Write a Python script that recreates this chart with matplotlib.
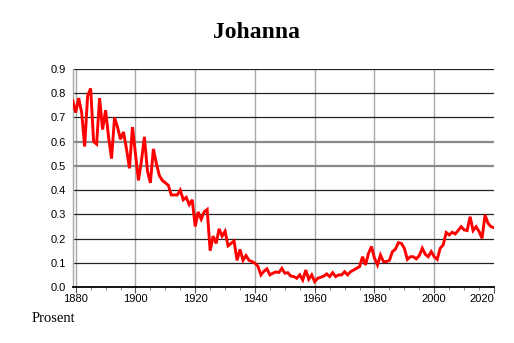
import matplotlib
matplotlib.use("Agg")
import matplotlib.pyplot as plt
from matplotlib.ticker import MultipleLocator, FormatStrFormatter

years = list(range(1879, 2021))
values = [
    0.77, 0.72, 0.78, 0.72, 0.58, 0.79, 0.82, 0.60, 0.59, 0.78,   # 1879-1888
    0.65, 0.73, 0.62, 0.53, 0.70, 0.66, 0.61, 0.64, 0.57, 0.49,   # 1889-1898
    0.66, 0.55, 0.44, 0.52, 0.62, 0.48, 0.43, 0.57, 0.51, 0.46,   # 1899-1908
    0.44, 0.43, 0.42, 0.38, 0.38, 0.38, 0.40, 0.36, 0.37, 0.34,   # 1909-1918
    0.36, 0.25, 0.31, 0.28, 0.31, 0.32, 0.15, 0.21, 0.18, 0.24,   # 1919-1928
    0.21, 0.23, 0.17, 0.18, 0.19, 0.11, 0.155, 0.11, 0.13, 0.11,  # 1929-1938
    0.105, 0.098, 0.085, 0.05, 0.065, 0.075, 0.05, 0.057, 0.062, 0.06,  # 1939-1948
    0.077, 0.057, 0.059, 0.045, 0.043, 0.036, 0.05, 0.029, 0.07, 0.032,  # 1949-1958
    0.05, 0.022, 0.036, 0.04, 0.045, 0.054, 0.043, 0.059, 0.043, 0.05,  # 1959-1968
    0.05, 0.063, 0.05, 0.063, 0.07, 0.077, 0.084, 0.125, 0.091, 0.139,  # 1969-1978
    0.167, 0.119, 0.091, 0.132, 0.105, 0.105, 0.11, 0.146, 0.156, 0.183,  # 1979-1988
    0.18, 0.16, 0.114, 0.125, 0.125, 0.116, 0.13, 0.16, 0.135, 0.125,  # 1989-1998
    0.146, 0.125, 0.114, 0.16, 0.174, 0.225, 0.215, 0.226, 0.219, 0.233,  # 1999-2008
    0.249, 0.236, 0.233, 0.29, 0.233, 0.249, 0.229, 0.201, 0.297, 0.263,  # 2009-2018
    0.249, 0.245,  # 2019-2020
]
assert len(years) == len(values)

title = "Johanna"
ylabel_text = "Prosent"
xticks = [1880, 1900, 1920, 1940, 1960, 1980, 2000, 2020]
yticks = [0.0, 0.1, 0.2, 0.3, 0.4, 0.5, 0.6, 0.7, 0.8, 0.9]

W, H = 514, 343
fig = plt.figure(figsize=(W / 100, H / 100), dpi=100)
ax = fig.add_axes([72.7 / W, 1 - 287 / H, (494 - 72.7) / W, (287 - 69) / H])

ax.set_xlim(1879, 2020)
ax.set_ylim(0, 0.9)

# grid
for x in xticks[:-1]:
    ax.axvline(x, color="#a8a8a8", lw=1.0, zorder=1)
for y in yticks[1:]:
    if y in (0.5, 0.6):
        ax.axhline(y, color="#8a8a8a", lw=1.6, zorder=1)
    else:
        ax.axhline(y, color="#222222", lw=0.9, zorder=1)

ax.plot(years, values, color="#ff0000", lw=2.1, zorder=3, solid_joinstyle="miter")

for s in ("top", "right"):
    ax.spines[s].set_visible(False)
ax.spines["left"].set_color("#a8a8a8")
ax.spines["left"].set_linewidth(1.0)
ax.spines["bottom"].set_color("black")
ax.spines["bottom"].set_linewidth(1.3)

ax.set_xticks(xticks)
ax.xaxis.set_minor_locator(MultipleLocator(5))
ax.set_yticks(yticks)
ax.yaxis.set_major_formatter(FormatStrFormatter("%.1f"))
ax.tick_params(axis="x", which="major", length=4, width=0.8, color="#555555",
               labelsize=8, pad=1)
ax.tick_params(axis="x", which="minor", length=2.5, width=0.6, color="#777777")
ax.tick_params(axis="y", length=0, labelsize=8, pad=5)
for lab in ax.get_xticklabels() + ax.get_yticklabels():
    lab.set_fontfamily("Liberation Sans")
xlabs = ax.get_xticklabels()
xlabs[-1].set_horizontalalignment("right")
xlabs[0].set_horizontalalignment("center")

fig.text(257 / W, 1 - 33 / H, title, ha="center", va="center",
         fontsize=17, fontweight="bold", family="Liberation Serif")
fig.text(32 / W, 1 - 319 / H, ylabel_text, ha="left", va="center",
         fontsize=10.5, family="Liberation Serif")

fig.savefig("out.png", dpi=100)
